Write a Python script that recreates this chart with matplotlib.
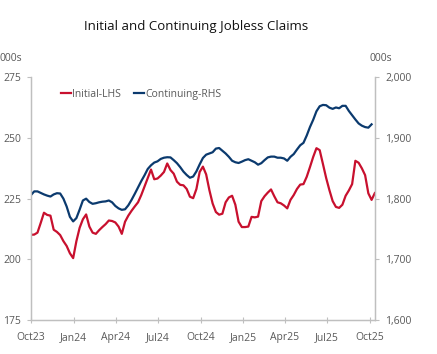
import pandas as pd
import matplotlib.pyplot as plt
import matplotlib.dates as mdates
from matplotlib.ticker import FuncFormatter

plt.rcParams['font.family'] = ['Open Sans', 'DejaVu Sans']

# weekly 4-wk avg, thousands
initial = [210.1, 210.2, 211, 215, 219.2, 218.3, 218, 212.2, 211.3, 210,
           207.5, 205.5, 202.5, 200.5, 207.5, 213, 216.5, 218.5, 213.5, 211,
           210.5, 212, 213.3, 214.5, 216, 215.8, 215.2, 213.5, 210.5, 215.5,
           218, 220, 221.8, 223.5, 226.5, 230, 233.5, 237, 233, 233.3,
           234.5, 236, 239.5, 236.8, 235.3, 232, 230.7, 230.5, 229, 225.8,
           225.2, 229, 236, 238.2, 235, 228.5, 223, 219.5, 218.4, 218.8,
           223.5, 225.5, 226.2, 222.5, 215.5, 213.3, 213.3, 213.5, 217.5, 217.3,
           217.6, 224, 226, 227.5, 228.8, 226, 223.5, 223.1, 222.2, 221,
           224.5, 226.5, 229, 230.8, 231, 234, 238, 242.2, 245.8, 245,
           239.3, 233.5, 228.5, 224, 221.6, 221.2, 222.5, 226.2, 228.4, 231,
           240.6, 239.8, 237.5, 234.7, 227.2, 224.5, 227.3]

continuing = [1806, 1812, 1812, 1809.5, 1807, 1805, 1803.5, 1807, 1809, 1808.5,
              1800, 1787, 1770, 1762.5, 1768, 1782, 1797, 1800, 1794.5, 1791.5,
              1792.5, 1794, 1795, 1795.5, 1797, 1794, 1788, 1784, 1781.6, 1782.5,
              1789, 1798, 1808, 1818.5, 1829, 1838.5, 1849, 1855, 1859.5, 1861.5,
              1865.5, 1867.5, 1868.3, 1868, 1863.5, 1858.5, 1852, 1844.6, 1839, 1834.5,
              1836.5, 1845, 1856.5, 1867, 1872.5, 1874.5, 1876.5, 1882.5, 1883.5, 1879,
              1874.5, 1869, 1862.5, 1860, 1858.8, 1861, 1863.5, 1865, 1862.5, 1860,
              1856, 1858.5, 1863.5, 1868, 1869.3, 1869.3, 1867.5, 1867.5, 1866.3, 1862.5,
              1869, 1873.5, 1881, 1888, 1892, 1904, 1918, 1930, 1944, 1952.3,
              1954.5, 1954, 1950, 1948, 1950.3, 1949, 1953, 1953, 1944.5, 1937.5,
              1930.5, 1924, 1920.3, 1918, 1917, 1922.5]

dates_init = pd.date_range('2023-10-01', periods=len(initial), freq='7D')
dates_cont = dates_init[:len(continuing)]

left_ticks = [175, 200, 225, 250, 275]
right_ticks = [1600, 1700, 1800, 1900, 2000]
x_ticks = pd.date_range('2023-10-01', '2025-10-01', freq='3MS')

red = '#C8102E'
navy = '#0B3A6E'
grey = '#595959'
spine = '#BFBFBF'

fig = plt.figure(figsize=(4.37, 3.54), dpi=100)
ax = fig.add_axes([0.0709, 0.096, 0.7879, 0.6856])
ax2 = ax.twinx()

l1, = ax.plot(dates_init, initial, color=red, lw=1.6, label='Initial-LHS')
l2, = ax2.plot(dates_cont, continuing, color=navy, lw=1.6, label='Continuing-RHS')

ax.set_ylim(175, 275)
ax2.set_ylim(1600, 2000)
ax.set_yticks(left_ticks)
ax2.set_yticks(right_ticks)
ax2.yaxis.set_major_formatter(FuncFormatter(lambda v, p: f'{int(v):,}'))
ax.set_xlim(pd.Timestamp('2023-10-01'), pd.Timestamp('2025-10-13'))
ax.set_xticks(x_ticks)
ax.xaxis.set_major_formatter(mdates.DateFormatter('%b%y'))

for a in (ax, ax2):
    for s in a.spines.values():
        s.set_color(spine)
        s.set_linewidth(0.9)
    a.spines['top'].set_visible(False)
    a.tick_params(colors=spine, labelcolor=grey, labelsize=7.5, length=3, width=0.8)
ax.tick_params(axis='x', direction='inout', length=5, pad=6)
ax.tick_params(axis='y', pad=4)
ax2.tick_params(axis='y', pad=4)

fig.text(0.0, 0.818, '000s', color=grey, fontsize=7.5, ha='left', va='bottom')
fig.text(0.845, 0.818, '000s', color=grey, fontsize=7.5, ha='left', va='bottom')
fig.text(0.449, 0.925, 'Initial and Continuing Jobless Claims', color='#111111',
         fontsize=9.5, ha='center', va='center')

ax.legend(handles=[l1, l2], loc='upper left', bbox_to_anchor=(0.06, 0.99), ncol=2,
          frameon=False, fontsize=7.5, handlelength=1.0, handletextpad=0.1,
          columnspacing=1.2, labelcolor=grey)

fig.savefig('out.png', dpi=100)
